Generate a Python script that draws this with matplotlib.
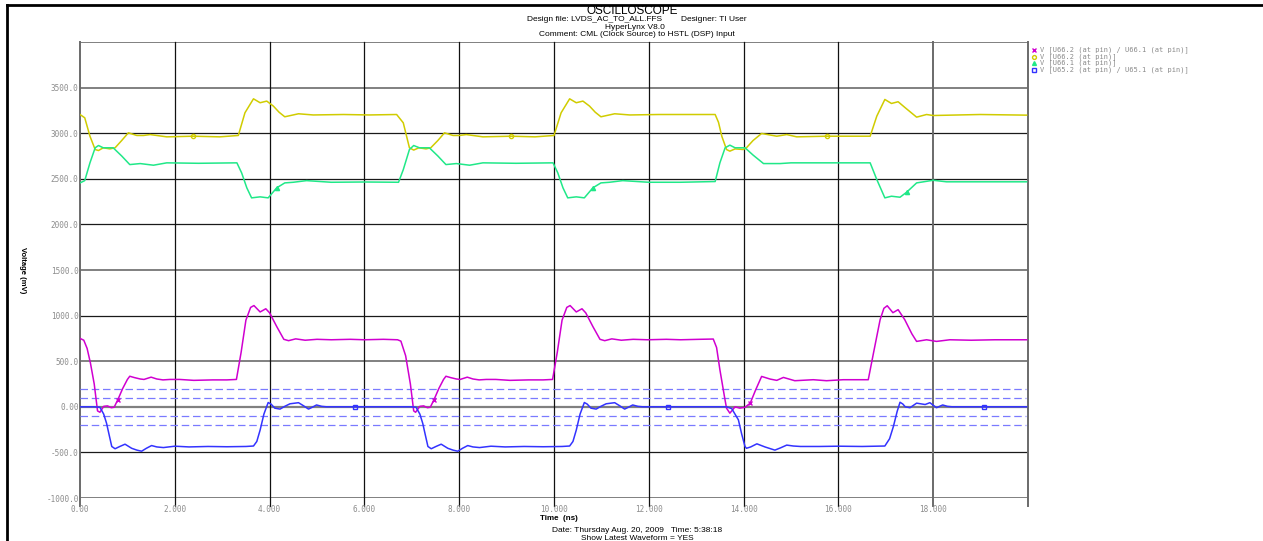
import numpy as np
import matplotlib
matplotlib.use("Agg")
import matplotlib.pyplot as plt
from matplotlib.lines import Line2D

# time axis in ns, voltages in mV
pink_t = [0.00, 0.08, 0.15, 0.22, 0.30, 0.37, 0.42, 0.50, 0.58, 0.66, 0.72, 0.80, 0.90, 1.00, 1.05, 1.15,
          1.27, 1.35, 1.50, 1.62, 1.75, 1.90, 2.10, 2.40, 2.80, 3.10, 3.30, 3.40, 3.50, 3.60, 3.67, 3.80,
          3.92, 4.00, 4.15, 4.30, 4.40, 4.55, 4.75, 5.00, 5.30, 5.70, 6.00, 6.40, 6.70,
          6.77, 6.87, 6.97, 7.04, 7.08, 7.17, 7.25, 7.33, 7.39, 7.47, 7.57, 7.67, 7.72, 7.82, 7.94,
          8.02, 8.17, 8.29, 8.42, 8.57, 8.77, 9.07, 9.47, 9.77, 9.97, 10.07, 10.17, 10.27, 10.34, 10.47,
          10.59, 10.67, 10.82, 10.97, 11.07, 11.22, 11.42, 11.67, 11.97, 12.37, 12.67, 13.07, 13.36,
          13.43, 13.50, 13.60, 13.64, 13.71, 13.82, 13.92, 14.03, 14.14, 14.25, 14.38, 14.56, 14.70,
          14.84, 15.08, 15.47, 15.75, 16.10, 16.63, 16.74, 16.88, 16.96, 17.03, 17.15, 17.26, 17.40,
          17.55, 17.65, 17.86, 18.07, 18.35, 18.80, 19.30, 19.97]
pink_v = [750, 730, 640, 480, 250, -45, -60, 5, 10, -10, -5, 80, 200, 300, 335, 320,
          305, 300, 325, 305, 295, 300, 300, 290, 295, 295, 300, 600, 950, 1090, 1110, 1040,
          1075, 1030, 880, 740, 725, 745, 730, 740, 735, 740, 735, 740, 735,
          720, 560, 250, -45, -60, 5, 10, -10, -5, 80, 200, 300, 335, 320, 305,
          300, 325, 305, 295, 300, 300, 290, 295, 295, 300, 600, 950, 1090, 1110, 1040,
          1075, 1030, 880, 740, 725, 745, 730, 740, 735, 740, 735, 740, 743,
          650, 406, 100, -15, -70, 0, -15, -5, 40, 180, 333, 304, 290,
          322, 286, 297, 286, 297, 297, 589, 955, 1080, 1108, 1032, 1065, 955,
          800, 717, 735, 717, 735, 730, 735, 735]

blue_t = [0.00, 0.30, 0.42, 0.50, 0.56, 0.62, 0.67, 0.74, 0.84, 0.95, 1.09, 1.20, 1.30, 1.40, 1.51,
          1.62, 1.76, 2.00, 2.30, 2.70, 3.10, 3.50, 3.66, 3.73, 3.80, 3.88, 3.97, 4.03, 4.11, 4.22,
          4.32, 4.43, 4.61, 4.72, 4.82, 4.90, 4.99, 5.10, 5.20, 5.80, 6.50,
          7.00, 7.09, 7.17, 7.23, 7.29, 7.34, 7.41, 7.51, 7.62, 7.76, 7.87, 7.97, 8.07, 8.18,
          8.29, 8.43, 8.67, 8.97, 9.37, 9.77, 10.17, 10.33, 10.40, 10.47, 10.55, 10.64, 10.70, 10.78,
          10.89, 10.99, 11.10, 11.28, 11.39, 11.49, 11.57, 11.66, 11.77, 11.87, 12.40, 13.10,
          13.64, 13.75, 13.89, 13.96, 14.03, 14.06, 14.15, 14.28, 14.45, 14.66, 14.78, 14.91, 15.05,
          15.20, 15.60, 16.00, 16.50, 16.98, 17.08, 17.16, 17.24, 17.30, 17.36, 17.41, 17.51, 17.65,
          17.83, 17.93, 18.07, 18.20, 18.30, 18.40, 19.07, 19.97]
blue_v = [0, 0, -5, -80, -180, -320, -435, -460, -435, -410, -455, -475, -487, -455, -425,
          -440, -447, -432, -440, -435, -438, -435, -430, -380, -255, -80, 47, 30, -15, -25,
          5, 33, 45, 10, -25, -5, 20, 5, 0, 0, 0,
          0, -5, -80, -180, -320, -435, -460, -435, -410, -455, -475, -487, -455, -425,
          -440, -447, -432, -440, -435, -438, -435, -430, -380, -255, -80, 47, 30, -15,
          -25, 5, 33, 45, 10, -25, -5, 20, 5, 0, 0, 0,
          0, -20, -143, -300, -435, -455, -440, -406, -440, -475, -450, -420, -430,
          -435, -435, -432, -435, -430, -350, -216, -50, 50, 30, 0, -10, 40,
          25, 45, -10, 20, 5, 0, 0, 0]

yellow_t = [0.00, 0.10, 0.21, 0.32, 0.39, 0.49, 0.63, 0.74, 0.88, 1.02, 1.20, 1.34, 1.48, 1.83, 2.39,
            2.95, 3.34, 3.48, 3.66, 3.80, 3.94, 4.08, 4.20, 4.32, 4.61, 4.92, 5.56, 6.10, 6.68,
            6.82, 6.95, 7.04, 7.15, 7.30, 7.40, 7.55, 7.69, 7.87, 8.00, 8.15, 8.50, 9.10, 9.60,
            10.00, 10.15, 10.33, 10.47, 10.61, 10.75, 10.87, 10.99, 11.28, 11.60, 12.20, 12.70,
            13.40, 13.47, 13.54, 13.64, 13.71, 13.82, 13.99, 14.06, 14.20, 14.38, 14.70, 14.91, 15.12,
            15.75, 16.67, 16.81, 16.98, 17.12, 17.26, 17.41, 17.65, 17.86, 18.00, 18.99, 19.97]
yellow_v = [3205, 3169, 2967, 2821, 2810, 2840, 2828, 2840, 2920, 3004, 2975, 2975, 2985, 2960, 2967,
            2960, 2975, 3224, 3377, 3334, 3352, 3297, 3230, 3180, 3213, 3200, 3205, 3200, 3205,
            3114, 2840, 2815, 2840, 2828, 2840, 2920, 3004, 2975, 2975, 2985, 2960, 2967, 2960,
            2975, 3224, 3377, 3334, 3352, 3297, 3230, 3180, 3213, 3200, 3205, 3205,
            3205, 3120, 2967, 2821, 2803, 2828, 2821, 2840, 2920, 2997, 2967, 2985, 2960,
            2967, 2967, 3187, 3370, 3326, 3345, 3279, 3176, 3205, 3194, 3205, 3198]

green_t = [0.00, 0.10, 0.21, 0.32, 0.39, 0.49, 0.70, 0.88, 1.05, 1.27, 1.55, 1.83, 2.50, 3.31, 3.41,
           3.52, 3.62, 3.80, 3.97, 4.15, 4.32, 4.50, 4.78, 5.30, 6.00, 6.72,
           6.82, 6.95, 7.04, 7.16, 7.37, 7.55, 7.72, 7.94, 8.22, 8.50, 9.20, 9.98, 10.08,
           10.19, 10.29, 10.47, 10.64, 10.82, 10.99, 11.17, 11.45, 12.00, 12.66,
           13.40, 13.50, 13.61, 13.71, 13.82, 14.03, 14.20, 14.42, 14.77, 15.00, 16.67, 16.81,
           16.98, 17.12, 17.30, 17.44, 17.65, 18.00, 18.28, 19.97]
green_v = [2455, 2480, 2675, 2840, 2865, 2840, 2840, 2750, 2656, 2667, 2649, 2675, 2670, 2675, 2565,
           2400, 2291, 2302, 2291, 2401, 2455, 2462, 2480, 2462, 2465, 2462,
           2600, 2821, 2865, 2840, 2840, 2750, 2656, 2667, 2649, 2675, 2670, 2675, 2565,
           2400, 2291, 2302, 2291, 2401, 2455, 2462, 2480, 2462, 2462,
           2470, 2675, 2840, 2869, 2840, 2840, 2760, 2667, 2667, 2675, 2675, 2492,
           2291, 2309, 2298, 2353, 2455, 2484, 2467, 2467]

# where HyperLynx drops its little trace markers (ns)
pink_marks = [0.80, 7.47, 14.14]
yellow_marks = [2.39, 9.10, 15.75]
green_marks = [4.15, 10.82, 17.44]
blue_marks = [5.80, 12.40, 19.07]

thresholds = [200, 100, -100, -200]
yticks = [-1000, -500, 0, 500, 1000, 1500, 2000, 2500, 3000, 3500]
ytick_labels = ["-1000.0", "-500.0", "0.00", "500.0", "1000.0", "1500.0", "2000.0", "2500.0", "3000.0", "3500.0"]
xticks = [0, 2, 4, 6, 8, 10, 12, 14, 16, 18, 20]
xtick_labels = ["0.00", "2.000", "4.000", "6.000", "8.000", "10.000", "12.000", "14.000", "16.000", "18.000", ""]

legend_labels = ["V [U66.2 (at pin) / U66.1 (at pin)]",
                 "V [U66.2 (at pin)]",
                 "V [U66.1 (at pin)]",
                 "V [U65.2 (at pin) / U65.1 (at pin)]"]

PINK = "#d000d0"
YELLOW = "#d0cc00"
GREEN = "#20e888"
BLUE = "#3333ff"
DASH = "#7a7aff"
TICKCOL = "#8c8c8c"
MONO = "DejaVu Sans Mono"
SANS = "Liberation Sans"

W, H = 1263, 541
fig = plt.figure(figsize=(W / 100, H / 100), dpi=100)
ax = fig.add_axes([80 / W, 43 / H, 948 / W, 456 / H])
ax.set_xlim(0, 20)
ax.set_ylim(-1000, 4000)
for s in ax.spines.values():
    s.set_visible(False)


def px(x, y):
    return x / W, 1 - y / H


# grid - some lines come out grey in the screenshot, some black
gray_h = {4000, 3500, 1500, 500, 0, -1000}
for yv in [-1000, -500, 0, 500, 1000, 1500, 2000, 2500, 3000, 3500, 4000]:
    if yv in gray_h:
        ax.axhline(yv, color="#808080", lw=1.6 if yv == 0 else 1.4, zorder=1)
    else:
        ax.axhline(yv, color="#1a1a1a", lw=0.9, zorder=1)
gray_v = {0, 18, 20}
for xv in xticks:
    col, lw = ("#6a6a6a", 1.4) if xv in gray_v else ("#111111", 0.9)
    ax.axvline(xv, ymin=-0.018, ymax=1, color=col, lw=lw, clip_on=False, zorder=1)

for th in thresholds:
    ax.axhline(th, xmax=0.998, color=DASH, lw=0.9, dashes=(6, 3), zorder=2)


def marks_at(t, times):
    t = np.asarray(t)
    return [int(np.argmin(np.abs(t - m))) for m in times]


ax.plot(yellow_t, yellow_v, color=YELLOW, lw=1.1, zorder=3,
        marker="o", markevery=marks_at(yellow_t, yellow_marks), ms=3, mfc="none", mec=YELLOW)
ax.plot(green_t, green_v, color=GREEN, lw=1.1, zorder=3,
        marker="^", markevery=marks_at(green_t, green_marks), ms=3, mec=GREEN, mfc=GREEN)
ax.plot(pink_t, pink_v, color=PINK, lw=1.1, zorder=4,
        marker="x", markevery=marks_at(pink_t, pink_marks), ms=3.5, mec=PINK)
ax.plot(blue_t, blue_v, color=BLUE, lw=1.1, zorder=4,
        marker="s", markevery=marks_at(blue_t, blue_marks), ms=3, mfc="none", mec=BLUE)

ax.set_yticks(yticks)
ax.set_yticklabels(ytick_labels, family=MONO, fontsize=5.5, color=TICKCOL)
ax.set_xticks(xticks)
ax.set_xticklabels(xtick_labels, family=MONO, fontsize=5.5, color=TICKCOL)
ax.tick_params(axis="y", length=0, pad=1)
ax.tick_params(axis="x", length=0, pad=5)

# header
fig.text(*px(632, 11), "OSCILLOSCOPE", family=SANS, fontsize=8.5, ha="center", va="center")
fig.text(*px(637, 19.5), "Design file: LVDS_AC_TO_ALL.FFS        Designer: TI User",
         family=SANS, fontsize=6, ha="center", va="center")
fig.text(*px(635, 27.5), "HyperLynx V8.0", family=SANS, fontsize=6, ha="center", va="center")
fig.text(*px(637, 35), "Comment: CML (Clock Source) to HSTL (DSP) Input",
         family=SANS, fontsize=6, ha="center", va="center")

# footer
fig.text(*px(559, 518), "Time  (ns)", family=SANS, fontsize=5.8, weight="bold", ha="center", va="center")
fig.text(*px(637, 531), "Date: Thursday Aug. 20, 2009   Time: 5:38:18",
         family=SANS, fontsize=6, ha="center", va="center")
fig.text(*px(637, 538.5), "Show Latest Waveform = YES", family=SANS, fontsize=6, ha="center", va="center")

fig.text(*px(22, 270), "Voltage (mV)", family=SANS, fontsize=5.5, weight="bold",
         rotation=-90, ha="center", va="center")

# legend block at top right
leg_y = [50, 56.5, 63, 69.5]
leg_mk = [("x", PINK, PINK), ("o", YELLOW, "none"), ("^", GREEN, GREEN), ("s", BLUE, "none")]
for yy, lab, (mk, c, fc) in zip(leg_y, legend_labels, leg_mk):
    fig.add_artist(Line2D([1034 / W], [1 - yy / H], marker=mk, ms=2.8, mec=c, mfc=fc,
                          lw=0, transform=fig.transFigure))
    fig.text(*px(1040, yy), lab, family=MONO, fontsize=5, color="#8a8a8a", ha="left", va="center")

# outer frame (left and top only)
fig.add_artist(Line2D([7 / W, 7 / W], [0, 1 - 5 / H], color="black", lw=2, transform=fig.transFigure))
fig.add_artist(Line2D([7 / W, 1], [1 - 5 / H, 1 - 5 / H], color="black", lw=2, transform=fig.transFigure))

fig.savefig("out.png", dpi=100)
